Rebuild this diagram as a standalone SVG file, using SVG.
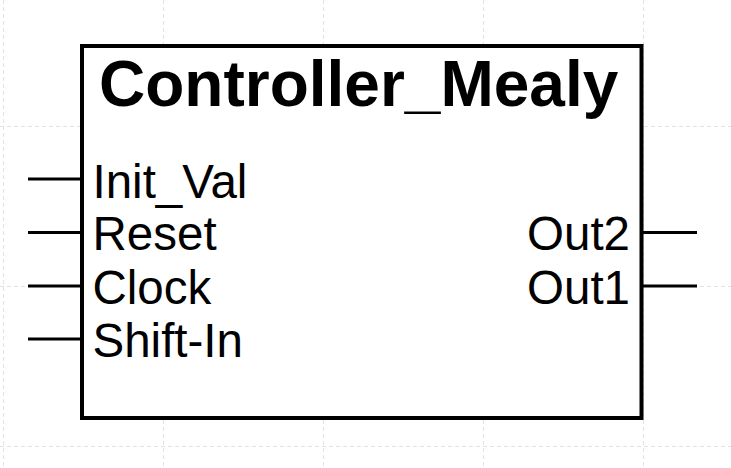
<svg xmlns="http://www.w3.org/2000/svg" width="731" height="468" viewBox="0 0 731 468">
  <style>
    .grid { stroke: #e2e2e2; stroke-width: 1; stroke-dasharray: 4 3; fill: none; }
    .body { fill: #ffffff; stroke: #000000; stroke-width: 4; }
    .pin { stroke: #000000; stroke-width: 3; fill: none; }
    .title { font-family: "Liberation Sans", Arial, sans-serif; font-weight: bold; font-size: 64px; fill: #000000; }
    .port { font-family: "Liberation Sans", Arial, sans-serif; font-size: 47.5px; fill: #000000; }
    .out { text-anchor: end; }
  </style>

  <rect x="0" y="0" width="731" height="468" fill="#ffffff"/>

  <!-- background grid -->
  <g id="grid" class="grid">
    <line x1="3.5" y1="0" x2="3.5" y2="468"/>
    <line x1="163.5" y1="0" x2="163.5" y2="468"/>
    <line x1="323.5" y1="0" x2="323.5" y2="468"/>
    <line x1="483.5" y1="0" x2="483.5" y2="468"/>
    <line x1="643.5" y1="0" x2="643.5" y2="468"/>
    <line x1="0" y1="126.5" x2="731" y2="126.5"/>
    <line x1="0" y1="286.5" x2="731" y2="286.5"/>
    <line x1="0" y1="446.5" x2="731" y2="446.5"/>
  </g>

  <!-- pin stubs -->
  <g id="connectors" class="pin">
    <line x1="28" y1="179" x2="82" y2="179"/>
    <line x1="28" y1="232.5" x2="82" y2="232.5"/>
    <line x1="28" y1="286" x2="82" y2="286"/>
    <line x1="28" y1="339" x2="82" y2="339"/>
    <line x1="641" y1="232.5" x2="697" y2="232.5"/>
    <line x1="641" y1="286" x2="697" y2="286"/>
  </g>

  <!-- block symbol -->
  <g id="Controller_Mealy">
    <rect class="body" x="82" y="46" width="559.5" height="372"/>
    <text class="title" x="99" y="106">Controller_Mealy</text>
    <text class="port" x="92.5" y="197.5">Init_Val</text>
    <text class="port" x="92.5" y="250">Reset</text>
    <text class="port" x="92.5" y="304">Clock</text>
    <text class="port" x="92.5" y="357">Shift-In</text>
    <text class="port out" x="630" y="250">Out2</text>
    <text class="port out" x="630" y="303.5">Out1</text>
  </g>
</svg>
